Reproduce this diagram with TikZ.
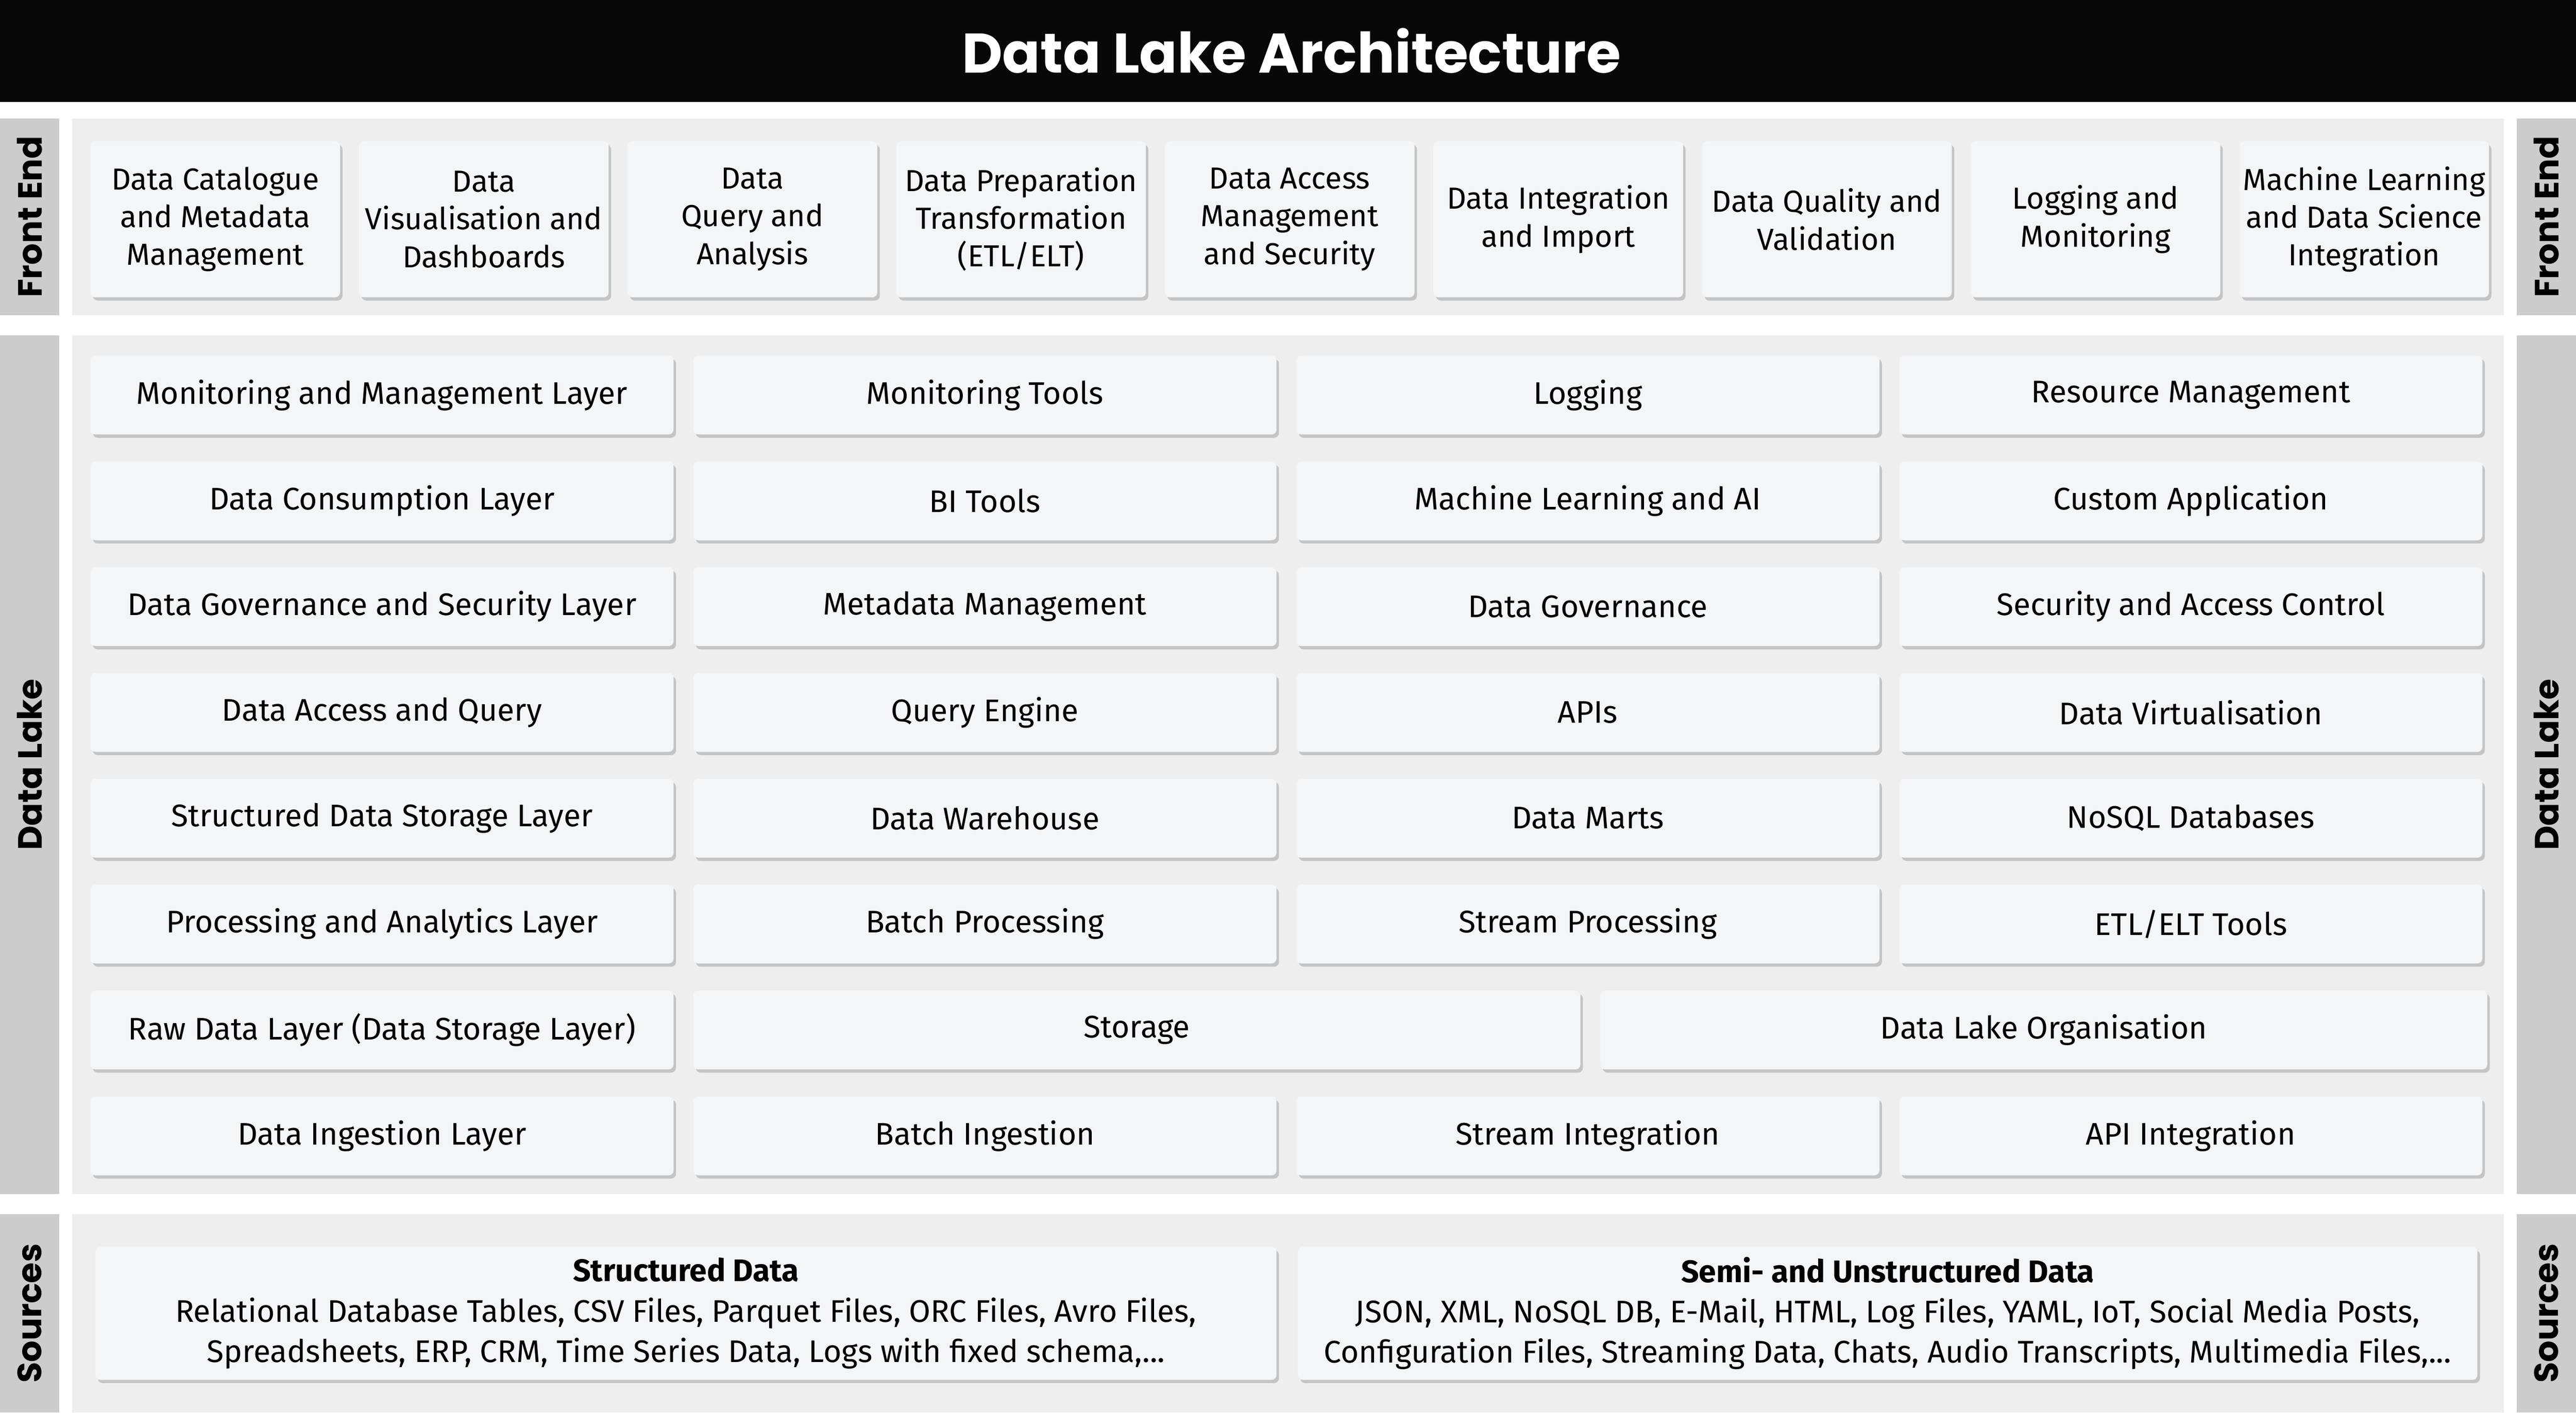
\documentclass[tikz,border=0pt]{standalone}
\usepackage{fontspec}
\setmainfont{Fira Sans}
\newfontfamily\labfont{Poppins}
\usetikzlibrary{shadows}
\definecolor{panel}{HTML}{EEEEEE}
\definecolor{labcol}{HTML}{CCCCCC}
\definecolor{boxcol}{HTML}{F4F5F7}
\tikzset{
 x=1pt,y=-1pt,
 boxst/.style={draw=none,fill=boxcol,rounded corners=3pt,drop shadow={shadow xshift=1.5pt,shadow yshift=-2pt,opacity=0.3,fill=black!60},font=\fontsize{19}{23}\selectfont,align=center,inner sep=0pt},
 panelst/.style={fill=panel,draw=none},
 labst/.style={fill=labcol,draw=none},
 labtext/.style={font=\labfont\bfseries\fontsize{20.5}{22}\selectfont,rotate=90}
}
\begin{document}
\begin{tikzpicture}
\useasboundingbox (0,0) rectangle (1568,860);
\fill[white] (0,0) rectangle (1568,860);
\fill[black!97] (0,0) rectangle (1568,62);
\node[text=white,font=\labfont\bfseries\fontsize{34}{36}\selectfont] (title) at (786,31) {Data Lake Architecture};
% section backgrounds
\foreach \ya/\yb/\lab/\nm in {72/192/Front End/fe,204/727/Data Lake/dl,739/860/Sources/src}{
 \fill[labst] (0,\ya) rectangle (36,\yb);
 \fill[panelst] (44,\ya) rectangle (1524,\yb);
 \fill[labst] (1532,\ya) rectangle (1568,\yb);
 \node[labtext] (\nm L) at (18,{(\ya+\yb)/2}) {\lab};
 \node[labtext] (\nm R) at (1550,{(\ya+\yb)/2}) {\lab};
}
% front end
\foreach \t [count=\i] in {{Data Catalogue\\and Metadata\\Management},{Data\\Visualisation and\\Dashboards},{Data\\Query and\\Analysis},{Data Preparation\\Transformation\\(ETL/ELT)},{Data Access\\Management\\and Security},{Data Integration\\and Import},{Data Quality and\\Validation},{Logging and\\Monitoring},{Machine Learning\\and Data Science\\Integration}}{
 \node[boxst,minimum width=152pt,minimum height=95pt,font=\fontsize{18.5}{23}\selectfont] (f\i) at ({55+76+(\i-1)*163.5},133.5) {\t};
}
% data lake rows
\foreach \a/\b/\c/\d [count=\r] in {
 {Monitoring and Management Layer}/{Monitoring Tools}/{Logging}/{Resource Management},
 {Data Consumption Layer}/{BI Tools}/{Machine Learning and AI}/{Custom Application},
 {Data Governance and Security Layer}/{Metadata Management}/{Data Governance}/{Security and Access Control},
 {Data Access and Query}/{Query Engine}/{APIs}/{Data Virtualisation},
 {Structured Data Storage Layer}/{Data Warehouse}/{Data Marts}/{NoSQL Databases},
 {Processing and Analytics Layer}/{Batch Processing}/{Stream Processing}/{ETL/ELT Tools}}{
 \pgfmathsetmacro\yy{240.5+(\r-1)*64.4}
 \node[boxst,minimum width=355pt,minimum height=48pt] (r\r a) at (232.5,\yy) {\a};
 \node[boxst,minimum width=355pt,minimum height=48pt] (r\r b) at (599.5,\yy) {\b};
 \node[boxst,minimum width=355pt,minimum height=48pt] (r\r c) at (966.5,\yy) {\c};
 \node[boxst,minimum width=355pt,minimum height=48pt] (r\r d) at (1333.5,\yy) {\d};
}
\node[boxst,minimum width=355pt,minimum height=48pt] (r7a) at (232.5,627) {Raw Data Layer (Data Storage Layer)};
\node[boxst,minimum width=540pt,minimum height=48pt] (r7b) at (692,627) {Storage};
\node[boxst,minimum width=540pt,minimum height=48pt] (r7c) at (1244,627) {Data Lake Organisation};
\node[boxst,minimum width=355pt,minimum height=48pt] (r8a) at (232.5,691.5) {Data Ingestion Layer};
\node[boxst,minimum width=355pt,minimum height=48pt] (r8b) at (599.5,691.5) {Batch Ingestion};
\node[boxst,minimum width=355pt,minimum height=48pt] (r8c) at (966.5,691.5) {Stream Integration};
\node[boxst,minimum width=355pt,minimum height=48pt] (r8d) at (1333.5,691.5) {API Integration};
% sources
\node[boxst,minimum width=719pt,minimum height=81pt,font=\fontsize{19}{24.5}\selectfont] (s1) at (417.5,799.5) {{\bfseries Structured Data}\\Relational Database Tables, CSV Files, Parquet Files, ORC Files, Avro Files,\\Spreadsheets, ERP, CRM, Time Series Data, Logs with fixed schema,...};
\node[boxst,minimum width=718pt,minimum height=81pt,font=\fontsize{19}{24.5}\selectfont] (s2) at (1149,799.5) {{\bfseries Semi- and Unstructured Data}\\JSON, XML, NoSQL DB, E-Mail, HTML, Log Files, YAML, IoT, Social Media Posts,\\Configuration Files, Streaming Data, Chats, Audio Transcripts, Multimedia Files,...};
\end{tikzpicture}
\end{document}
